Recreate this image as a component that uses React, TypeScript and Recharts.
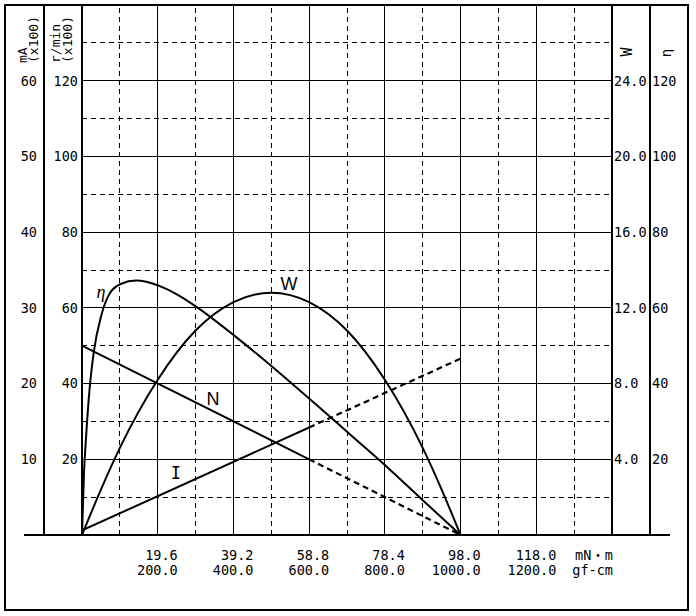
import React from 'react';
import { ComposedChart, Line, XAxis, YAxis, ReferenceLine, ReferenceDot, Label } from 'recharts';

// ---------- data ----------
const torqueTicks = [19.6, 39.2, 58.8, 78.4, 98.0, 117.6, 137.2];
const torqueLabels = ['19.6', '39.2', '58.8', '78.4', '98.0', '118.0'];
const gfcmLabels = ['200.0', '400.0', '600.0', '800.0', '1000.0', '1200.0'];
const torqueUnit = 'mN・m';
const gfcmUnit = 'gf-cm';

const currentTicks = [10, 20, 30, 40, 50, 60];
const speedTicks = [20, 40, 60, 80, 100, 120];
const powerTicks = [4, 8, 12, 16, 20, 24];
const effTicks = [20, 40, 60, 80, 100, 120];

const gridSolidY = [10, 20, 30, 40, 50, 60];
const gridDashedY = [5, 15, 25, 35, 45, 55, 65];
const gridSolidX = [19.6, 39.2, 58.8, 78.4, 98.0, 117.6];
const gridDashedX = [9.8, 29.4, 49.0, 68.6, 88.2, 107.8, 127.4];

// speed N (r/min x100)
const speedSolidT = [0, 58.8];
const speedSolidV = [50, 20];
const speedDashedT = [58.8, 98];
const speedDashedV = [20, 0];

// current I (mA x100)
const currentSolidT = [0, 58.8];
const currentSolidV = [0.6, 14.2];
const currentDashedT = [58.8, 98];
const currentDashedV = [14.2, 23.3];

// output W
const powerT = [0, 4.9, 9.8, 19.6, 29.4, 39.2, 49, 58.8, 68.6, 78.4, 88.2, 93.1, 98];
const powerV = [0, 2.4, 4.6, 8.2, 10.8, 12.3, 12.8, 12.3, 10.8, 8.2, 4.6, 2.4, 0];

// efficiency η (%)
const effT = [0, 0.5, 1, 2, 3, 5, 7, 10, 14, 20, 25, 30, 40, 50, 60, 70, 80, 90, 98];
const effV = [0, 16, 25, 39, 48, 58, 63.5, 66.3, 67.2, 65.8, 63.3, 60, 52.2, 43.8, 35, 26, 17, 7.5, 0];

// axis ids (inner axes sort first)
const RPM = 'a_rpm';
const MA = 'b_mA';
const WATT = 'a_W';
const ETA = 'b_eta';

const noteText = ['η', 'W', 'N', 'I'];
const noteT = [4.9, 53.6, 33.9, 24.3];
const noteV = [64.4, 13.3, 36.1, 8.2];
const noteAxis = [ETA, WATT, RPM, MA];

const pts = (t: number[], v: number[]) => t.map((x, i) => ({ t: x, v: v[i] }));

// ---------- layout / style ----------
const CHART_W = 696;
const CHART_H = 616;
const MARGIN = { top: 5, right: 8, bottom: 6, left: 5 };
const X_AXIS_H = 75;
const PLOT_BOTTOM = CHART_H - MARGIN.bottom - X_AXIS_H;
const MONO = "'DejaVu Sans Mono', 'Noto Sans CJK JP', monospace";
const FS = 13.5;
const BLACK = '#000';

const noteFonts = [
  { fontFamily: "'Liberation Serif', serif", fontStyle: 'italic', fontSize: 18 },
  { fontFamily: "'Liberation Sans', Arial, sans-serif", fontStyle: 'normal', fontSize: 18 },
  { fontFamily: "'Liberation Sans', Arial, sans-serif", fontStyle: 'normal', fontSize: 18 },
  { fontFamily: "'DejaVu Sans Mono', monospace", fontStyle: 'normal', fontSize: 17 },
];

const leftTick = (offset: number, fmt: (v: number) => string) => (p: any) => (
  <text x={p.x - offset} y={p.y} dy="0.36em" textAnchor="end" fontFamily={MONO} fontSize={FS} fill={BLACK}>
    {fmt(p.payload.value)}
  </text>
);
const rightTick = (offset: number, fmt: (v: number) => string) => (p: any) => (
  <text x={p.x + offset} y={p.y} dy="0.36em" textAnchor="start" fontFamily={MONO} fontSize={FS} fill={BLACK}>
    {fmt(p.payload.value)}
  </text>
);

const XTick = (p: any) => {
  const v = p.payload.value;
  const i = torqueTicks.findIndex((t) => Math.abs(t - v) < 1e-6);
  if (i < 0) return <g />;
  const last = i === torqueTicks.length - 1;
  const top = last ? torqueUnit : torqueLabels[i];
  const bottom = last ? gfcmUnit : gfcmLabels[i];
  const tx = p.x + (last ? 1 : 20);
  return (
    <g>
      <text x={tx} y={p.y + 20.5} dy="0.36em" textAnchor="end" fontFamily={MONO} fontSize={FS} fill={BLACK}>{top}</text>
      <text x={tx} y={p.y + 35.5} dy="0.36em" textAnchor="end" fontFamily={MONO} fontSize={FS} fill={BLACK}>{bottom}</text>
    </g>
  );
};

const verticalTitle = (lines: string[], dxs: number[], dyStart: number) => (props: any) => {
  const vb = props.viewBox || { x: 0, y: 0 };
  return (
    <g>
      {lines.map((s, k) => {
        const x = vb.x + dxs[k];
        const y = vb.y + dyStart;
        return (
          <text key={k} x={x} y={y} dy="0.36em" textAnchor="start" transform={`rotate(-90, ${x}, ${y})`}
            fontFamily={MONO} fontSize={13} fill={BLACK}>{s}</text>
        );
      })}
    </g>
  );
};

const centerTitle = (s: string, dx: number, dy: number, size: number) => (props: any) => {
  const vb = props.viewBox || { x: 0, y: 0 };
  const x = vb.x + dx;
  const y = vb.y + dy;
  return (
    <text x={x} y={y} dy="0.36em" textAnchor="middle" transform={`rotate(-90, ${x}, ${y})`}
      fontFamily={MONO} fontSize={size} fill={BLACK}>{s}</text>
  );
};

const noteLabel = (k: number) => (props: any) => {
  const vb = props.viewBox || { x: 0, y: 0, width: 0, height: 0 };
  const f = noteFonts[k];
  return (
    <text x={vb.x + (vb.width || 0) / 2} y={vb.y + (vb.height || 0) / 2} dy="0.36em" textAnchor="middle"
      fontFamily={f.fontFamily} fontStyle={f.fontStyle} fontSize={f.fontSize} fill={BLACK}>{noteText[k]}</text>
  );
};

export default function App() {
  const axisLine = { stroke: BLACK, strokeWidth: 2 };
  return (
    <div style={{ position: 'absolute', left: 0, top: 0, width: CHART_W, height: CHART_H, background: '#fff' }}>
      <ComposedChart width={CHART_W} height={CHART_H} margin={MARGIN}>
        <XAxis type="number" dataKey="t" domain={[0, 137.2]} ticks={torqueTicks} interval={0}
          axisLine={false} tickLine={false} tickSize={0} tickMargin={0} height={X_AXIS_H} tick={XTick} allowDataOverflow />
        <YAxis yAxisId={RPM} orientation="left" width={38} type="number" domain={[0, 140]} ticks={speedTicks} interval={0}
          axisLine={axisLine} tickLine={false} tickSize={0} tickMargin={0} tick={leftTick(4, (v) => String(v))} allowDataOverflow>
          <Label content={verticalTitle(['r/min', '(x100)'], [11, 23], 58)} />
        </YAxis>
        <YAxis yAxisId={MA} orientation="left" width={39} type="number" domain={[0, 70]} ticks={currentTicks} interval={0}
          axisLine={axisLine} tickLine={false} tickSize={0} tickMargin={0} tick={leftTick(7, (v) => String(v))} allowDataOverflow>
          <Label content={verticalTitle(['mA', '(x100)'], [17, 28], 58)} />
        </YAxis>
        <YAxis yAxisId={WATT} orientation="right" width={38} type="number" domain={[0, 28]} ticks={powerTicks} interval={0}
          axisLine={axisLine} tickLine={false} tickSize={0} tickMargin={0} tick={rightTick(2, (v) => v.toFixed(1))} allowDataOverflow>
          <Label content={centerTitle('W', 15, 47, 15)} />
        </YAxis>
        <YAxis yAxisId={ETA} orientation="right" width={38} type="number" domain={[0, 140]} ticks={effTicks} interval={0}
          axisLine={axisLine} tickLine={false} tickSize={0} tickMargin={0} tick={rightTick(2, (v) => String(v))} allowDataOverflow>
          <Label content={centerTitle('η', 16, 48, 14)} />
        </YAxis>

        {gridDashedY.map((v) => (
          <ReferenceLine key={'dy' + v} yAxisId={MA} y={v} stroke={BLACK} strokeWidth={1} strokeDasharray="5 4"
            shapeRendering="crispEdges" />
        ))}
        {gridDashedX.map((v) => (
          <ReferenceLine key={'dx' + v} yAxisId={MA} x={v} stroke={BLACK} strokeWidth={1} strokeDasharray="5 4"
            shapeRendering="crispEdges" />
        ))}
        {gridSolidY.map((v) => (
          <ReferenceLine key={'sy' + v} yAxisId={MA} y={v} stroke={BLACK} strokeWidth={1} shapeRendering="crispEdges" />
        ))}
        {gridSolidX.map((v) => (
          <ReferenceLine key={'sx' + v} yAxisId={MA} x={v} stroke={BLACK} strokeWidth={1} shapeRendering="crispEdges" />
        ))}

        <Line yAxisId={RPM} data={pts(speedSolidT, speedSolidV)} dataKey="v" type="linear" stroke={BLACK} strokeWidth={2}
          dot={false} activeDot={false} isAnimationActive={false} />
        <Line yAxisId={RPM} data={pts(speedDashedT, speedDashedV)} dataKey="v" type="linear" stroke={BLACK} strokeWidth={2.2}
          strokeDasharray="6 4" dot={false} activeDot={false} isAnimationActive={false} />
        <Line yAxisId={MA} data={pts(currentSolidT, currentSolidV)} dataKey="v" type="linear" stroke={BLACK} strokeWidth={2}
          dot={false} activeDot={false} isAnimationActive={false} />
        <Line yAxisId={MA} data={pts(currentDashedT, currentDashedV)} dataKey="v" type="linear" stroke={BLACK} strokeWidth={2.2}
          strokeDasharray="6 4" dot={false} activeDot={false} isAnimationActive={false} />
        <Line yAxisId={WATT} data={pts(powerT, powerV)} dataKey="v" type="monotone" stroke={BLACK} strokeWidth={2}
          dot={false} activeDot={false} isAnimationActive={false} />
        <Line yAxisId={ETA} data={pts(effT, effV)} dataKey="v" type="monotone" stroke={BLACK} strokeWidth={2}
          dot={false} activeDot={false} isAnimationActive={false} />

        {noteText.map((s, k) => (
          <ReferenceDot key={'n' + k} yAxisId={noteAxis[k]} x={noteT[k]} y={noteV[k]} r={1} fill="none" stroke="none"
            label={noteLabel(k)} />
        ))}
      </ComposedChart>
      <svg width={CHART_W} height={CHART_H} style={{ position: 'absolute', left: 0, top: 0, pointerEvents: 'none' }}>
        <rect x={MARGIN.left} y={MARGIN.top} width={CHART_W - MARGIN.left - MARGIN.right}
          height={CHART_H - MARGIN.top - MARGIN.bottom} fill="none" stroke={BLACK} strokeWidth={2} />
        <line x1={MARGIN.left + 19} x2={CHART_W - MARGIN.right - 18} y1={PLOT_BOTTOM} y2={PLOT_BOTTOM}
          stroke={BLACK} strokeWidth={2} />
      </svg>
    </div>
  );
}
